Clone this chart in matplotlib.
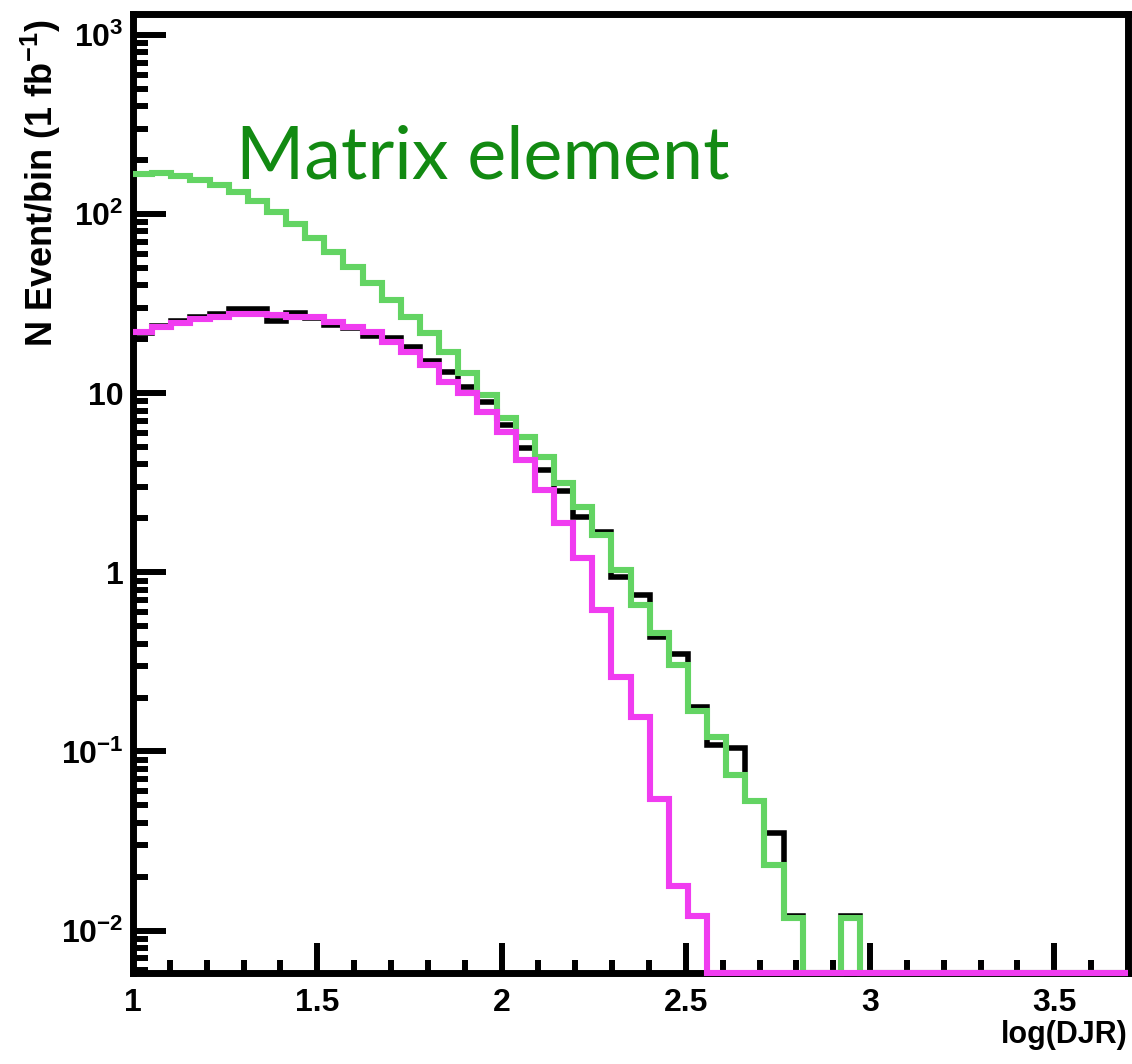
import numpy as np
import matplotlib
matplotlib.use("Agg")
import matplotlib.pyplot as plt
from matplotlib.ticker import FixedLocator, LogLocator, MultipleLocator, NullFormatter

plt.rcParams["font.family"] = ["Liberation Sans", "DejaVu Sans"]
plt.rcParams["font.weight"] = "bold"
plt.rcParams["mathtext.fontset"] = "custom"
plt.rcParams["mathtext.rm"] = "Liberation Sans:bold"
plt.rcParams["mathtext.it"] = "Liberation Sans:bold:italic"
plt.rcParams["mathtext.bf"] = "Liberation Sans:bold"

# ── data ──────────────────────────────────────────────────
X_LO, X_HI, N_BINS = 1.0, 3.7, 52

# "Matrix element" sample (green)
matrix_element = [167, 169, 163, 155, 145, 133, 118, 103, 88, 73.4,
                  61.3, 50.6, 41.2, 33.1, 26.6, 21.6, 16.9, 12.9, 9.75, 7.25,
                  5.68, 4.39, 3.14, 2.31, 1.61, 1.03, 0.654, 0.456, 0.302, 0.169,
                  0.120, 0.0735, 0.0532, 0.0231, 0.0117, 0, 0, 0.0117] + [0] * 14

# magenta sample
parton_shower = [21.9, 23.4, 24.6, 25.9, 26.6, 27.6, 27.6, 27.3, 26.6, 26.6,
                 24.9, 23.4, 21.9, 19.3, 16.9, 14.3, 11.5, 10.0, 7.83, 6.06,
                 4.23, 2.87, 1.88, 1.20, 0.614, 0.259, 0.155, 0.0546, 0.0178, 0.0121] + [0] * 22

# black sample
total = [21.6, 23.7, 25.3, 26.6, 27.6, 29.5, 29.5, 25.3, 28.0, 26.2,
         24.0, 23.1, 20.8, 20.3, 18.1, 15.1, 13.1, 10.8, 8.91, 6.62,
         4.93, 3.72, 2.84, 2.03, 1.67, 0.938, 0.745, 0.433, 0.352, 0.176,
         0.108, 0.104, 0.053, 0.0352, 0.0121, 0, 0, 0.0121] + [0] * 14

Y_MIN, Y_MAX = 0.0058, 1310

y_ticks = [1e-2, 1e-1, 1, 10, 1e2, 1e3]
y_tick_labels = ["$10^{-2}$", "$10^{-1}$", "1", "10", "$10^{2}$", "$10^{3}$"]
x_ticks = [1, 1.5, 2, 2.5, 3, 3.5]
x_tick_labels = ["1", "1.5", "2", "2.5", "3", "3.5"]

edges = np.linspace(X_LO, X_HI, N_BINS + 1)

# ── plot ──────────────────────────────────────────────────
fig = plt.figure(figsize=(11.32, 10.64), dpi=100)
ax = fig.add_axes([0.1175, 0.0855, 0.879, 0.9015])

def draw(vals, color, lw, z):
    v = np.maximum(np.asarray(vals, float), Y_MIN)
    ax.stairs(v, edges, baseline=None, color=color, lw=lw, zorder=z, clip_on=False)

draw(total, "black", 4.0, 2.6)
draw(matrix_element, "#63d463", 4.4, 2.7)
draw(parton_shower, "#f03cf0", 4.4, 2.8)

ax.set_yscale("log")
ax.set_xlim(X_LO, X_HI)
ax.set_ylim(Y_MIN, Y_MAX)

for s in ax.spines.values():
    s.set_linewidth(5)

ax.yaxis.set_major_locator(FixedLocator(y_ticks))
ax.set_yticklabels(y_tick_labels)
ax.yaxis.set_minor_locator(LogLocator(base=10, subs=np.arange(2, 10)))
ax.yaxis.set_minor_formatter(NullFormatter())
ax.xaxis.set_major_locator(FixedLocator(x_ticks))
ax.set_xticklabels(x_tick_labels)
ax.xaxis.set_minor_locator(MultipleLocator(0.1))

ax.tick_params(axis="both", which="both", direction="in", top=False, right=False,
               width=4.3, labelsize=23)
ax.tick_params(axis="y", which="major", length=24, pad=7)
ax.tick_params(axis="y", which="minor", length=11)
ax.tick_params(axis="x", which="major", length=21.5, pad=11)
ax.tick_params(axis="x", which="minor", length=9.5)

fig.text(0.036, 0.982, "N Event/bin (1 fb$^{-1}$)", rotation=90,
         ha="center", va="top", fontsize=26)
fig.text(0.9965, 0.0197, "log(DJR)", ha="right", va="baseline", fontsize=22)
fig.text(0.2085, 0.8327, "Matrix element", color="#128a12", fontsize=53,
         family=["Lato", "DejaVu Sans"], weight="normal", ha="left", va="baseline")

fig.savefig("out.png", dpi=100)
